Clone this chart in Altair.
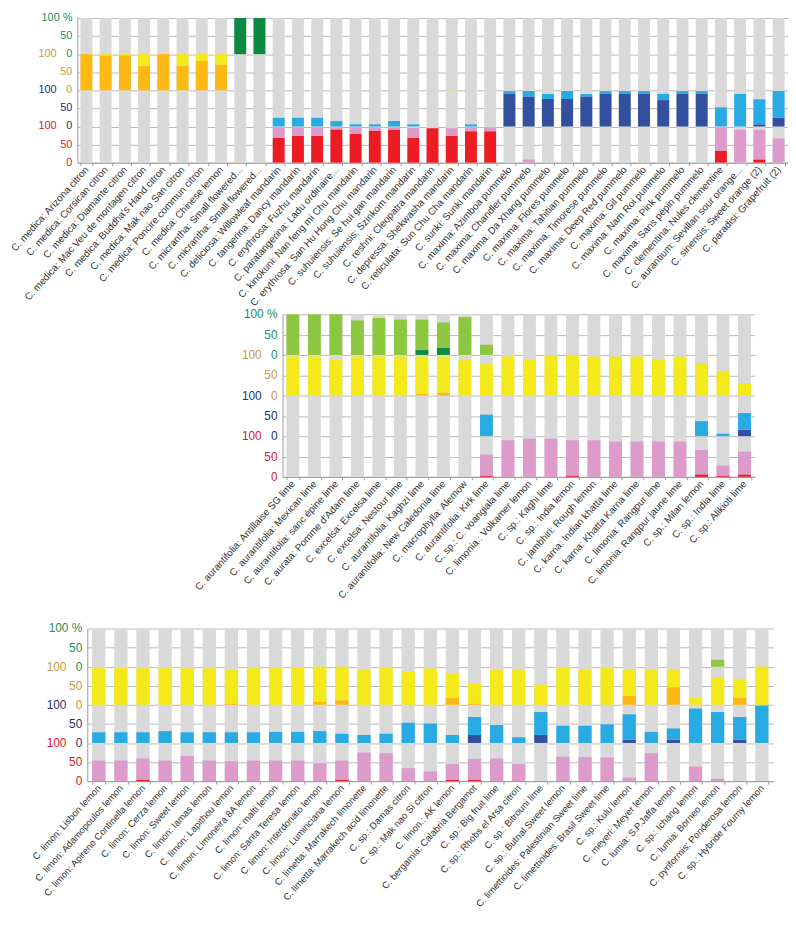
import json
import altair as alt
import pandas as pd

FONT = "Liberation Sans"
GRAY = "#d9d9d9"
CATS = ["R", "P", "DB", "LB", "O", "Y", "DG", "LG"]
PAIRS = [("R", "P"), ("DB", "LB"), ("O", "Y"), ("DG", "LG")]

# ---------------- panel 1 ----------------
p1_labels = [
    "C. medica: Arizona citron", "C. medica: Corsican citron", "C. medica: Diamante citron",
    "C. medica: Mac Veu de montagen citron", "C. medica: Buddha's Hand citron",
    "C. medica: Mak nao San citron", "C. medica: Poncire commun citron", "C. medica: Chinese lemon",
    "C. micrantha: Small flowered...", "C. micrantha: Small flowered...",
    "C. deliciosa: Willowleaf mandarin", "C. tangerina: Dancy mandarin", "C. erythrosa: Fuzhu mandarin",
    "C. paratangerina: Ladu ordinaire...", "C. kinokuni: Nan feng mi Chu mandarin",
    "C. erythrosa: San Hu Hong Chu mandarin", "C. suhuiensis: Se hui gan mandarin",
    "C. suhuiensis: Szinkom mandarin", "C. reshni: Cleopatra mandarin", "C. depressa: Shekwasha mandarin",
    "C. reticulata: Sun Chu Cha mandarin", "C. sunki: Sunki mandarin",
    "C. maxima: Azimboa pummelo", "C. maxima: Chandler pummelo", "C. maxima: Da Xhang pummelo",
    "C. maxima: Flores pummelo", "C. maxima: Tahitian pummelo", "C. maxima: Timorese pummelo",
    "C. maxima: Deep Red pummelo", "C. maxima: Gil pummelo", "C. maxima: Nam Roi pummelo",
    "C. maxima: Pink pummelo", "C. maxima: Sans pépin pummelo", "C. clementina: Nules clementine",
    "C. aurantium: Sevillan sour orange...", "C. sinensis: Sweet orange (2)", "C. paradisi: Grapefruit (2)",
]
p1_R = [0] * 10 + [69, 74, 74, 92, 79, 88, 92, 69, 95, 74, 87, 87] + [0] * 11 + [33, 0, 9, 0]
p1_P = [0] * 10 + [29, 24, 24, 6, 19, 10, 6, 27, 0, 21, 11, 11] + [0, 9, 0, 0, 0, 0, 0, 0, 0, 0, 0] + [65, 91, 82, 67]
p1_DB = [0] * 22 + [90, 83, 76, 76, 83, 91, 91, 91, 73, 91, 91] + [0, 0, 6, 24]
p1_LB = [0] * 10 + [24, 24, 24, 15, 6, 6, 15, 6, 0, 0, 6, 0] + [8, 15, 14, 22, 7, 7, 7, 7, 17, 7, 7] + [53, 90, 69, 74]
p1_O = [100, 96, 97, 67, 100, 67, 81, 71] + [0] * 29
p1_Y = [0, 4, 3, 33, 0, 33, 19, 29] + [0] * 11 + [4] + [0] * 17
p1_DG = [0] * 8 + [100, 100] + [0] * 27
p1_LG = [0] * 37

# ---------------- panel 2 ----------------
p2_labels = [
    "C. aurantifolia: Antillaise SG lime", "C. aurantifolia: Mexican lime",
    "C. aurantifolia: sanc épine lime", "C. aurata: Pomme d'Adam lime", "C. excelsa: Excelsa lime",
    "C. excelsa: Nestour lime", "C. aurantifolia: Kaghzi lime", "C. aurantifolia: New Caledonia lime",
    "C. macrophylla: Alemow", "C. aurantifolia: Kirk lime", "C. sp.: C. voangiala lime",
    "C. limonia.: Volkamer lemon", "C. sp.: Kaghi lime", "C. sp.: India lemon",
    "C. jambhiri: Rough lemon", "C. karna: Indian khatta lime", "C. karna: Khatta Karna lime",
    "C. limonia: Rangpur lime", "C. limonia: Rangpur jaune lime", "C. sp.: Milan lemon",
    "C. sp.: India lime", "C. sp.: Alikioti lime",
]
p2_R = [0] * 9 + [3, 0, 0, 0, 3, 0, 0, 0, 0, 0, 6, 3, 6]
p2_P = [0] * 9 + [52, 90, 94, 94, 87, 90, 87, 87, 87, 87, 60, 25, 56]
p2_DB = [0] * 21 + [16]
p2_LB = [0] * 9 + [53] + [0] * 9 + [37, 6, 41]
p2_O = [0] * 6 + [4, 7] + [0] * 14
p2_Y = [96, 96, 89, 96, 96, 96, 92, 89, 89, 77, 96, 89, 100, 100, 96, 96, 96, 89, 96, 80, 61, 30]
p2_DG = [0] * 6 + [12, 18] + [0] * 14
p2_LG = [100, 100, 100, 85, 91, 87, 75, 62, 93, 25] + [0] * 12

# ---------------- panel 3 ----------------
p3_labels = [
    "C. limon: Lisbon lemon", "C. limon: Adamopoulos lemon", "C. limon: Apireno Continella lemon",
    "C. limon: Cerza lemon", "C. limon: Sweet lemon", "C. limon: Iamas lemon", "C. limon: Lapithou lemon",
    "C. limon: Limoneira 8A lemon", "C. limon: malti lemon", "C. limon: Santa Teresa lemon",
    "C. limon: Interdonato lemon", "C. limon: Luminciana lemon", "C. limetta: Marrakech limonette",
    "C. limetta: Marrakech acid limonette", "C. sp.: Damas citron", "C. sp.: Mak nao Si citron",
    "C. limon.: AK lemon", "C. bergamia: Calabria Bergamot", "C. sp.: Big fruit lime",
    "C. sp.: Rhobs el Arsa citron", "C. sp.: Bitrouni lime", "C. sp.: Butnal Sweet lemon",
    "C. limettioides: Palestinian Sweet lime", "C. limettioides: Brasil Sweet lime",
    "C. sp.: Kulu lemon", "C. meyeri: Meyer lemon", "C. lumia: S.P.Jaffa lemon", "C. sp.: Ichang lemon",
    "C. lumia: Borneo lemon", "C. pyriformis: Ponderosa lemon", "C. sp.: Hybride Fourny lemon",
]
p3_R = [0, 0, 4, 0, 0, 0, 0, 0, 0, 0, 0, 4, 0, 0, 0, 0, 4, 4, 0, 0, 0, 0, 0, 0, 0, 0, 0, 0, 0, 0, 0]
p3_P = [54, 54, 55, 54, 66, 54, 52, 54, 54, 54, 47, 50, 75, 73, 34, 25, 41, 54, 59, 45, 0, 64, 63, 62, 9, 73, 0, 38, 6, 0, 0]
p3_DB = [0] * 17 + [21, 0, 0, 21, 0, 0, 0, 8, 0, 8, 0, 0, 8, 0]
p3_LB = [28, 28, 28, 31, 28, 28, 28, 28, 29, 29, 31, 24, 21, 24, 53, 51, 21, 47, 47, 15, 60, 45, 45, 49, 67, 29, 30, 90, 81, 60, 98]
p3_O = [0, 0, 0, 0, 0, 0, 3, 0, 0, 0, 8, 12, 0, 0, 0, 0, 19, 3, 0, 0, 0, 0, 0, 0, 23, 0, 46, 0, 0, 19, 0]
p3_Y = [96, 96, 96, 96, 96, 96, 88, 96, 98, 98, 92, 88, 91, 98, 86, 95, 62, 54, 91, 91, 53, 97, 91, 97, 68, 91, 45, 19, 73, 49, 100]
p3_DG = [0] * 31
p3_LG = [0] * 28 + [18, 0, 0]

# y tick labels (two columns, coloured per band)
tick_r_vals = [0, 50, 100, 150, 200, 250, 300, 350, 400]
tick_r_text = ["0", "50", "0", "50", "0", "50", "0", "50", "100 %"]
tick_r_col = ["#d4202e", "#d4202e", "#24306e", "#24306e", "#c69a3e", "#c69a3e", "#1e8c5c", "#1e8c5c", "#1e8c5c"]
tick_l_vals = [100, 200, 300]
tick_l_text = ["100", "100", "100"]
tick_l_col = ["#d4202e", "#24306e", "#c69a3e"]


def seg_table(keys, series):
    rows = []
    for i, k in enumerate(keys):
        for band, (a, b) in enumerate(PAIRS):
            base = band * 100
            va, vb = series[a][i], series[b][i]
            if va > 0:
                rows.append({"key": k, "cat": a, "y0": base, "y1": base + va})
            if vb > 0:
                rows.append({"key": k, "cat": b, "y0": base + va, "y1": base + va + vb})
    return pd.DataFrame(rows)


def panel(labels, series, step, pin, pout, offset, height, orange, lab_fs, x_fs):
    n = len(labels)
    keys = [f"{i:02d}" for i in range(n)]
    plot_w = step * (n - pin + 2 * pout)
    colors = ["#ec1c24", "#dc9bcb", "#33509f", "#28abe2", orange, "#f3e91b", "#0c8a44", "#8dc63f"]
    xs = alt.Scale(domain=keys, range=[offset, offset + plot_w], paddingInner=pin, paddingOuter=pout)
    ys = alt.Scale(domain=[0, 400], nice=False)
    xaxis = alt.Axis(title=None, labelExpr=json.dumps(labels) + "[toNumber(datum.value)]",
                     labelAngle=-48, labelFont=FONT, labelFontSize=x_fs, labelColor="#333333",
                     labelLimit=400, labelOverlap=False, labelPadding=2, tickBand="extent", tickSize=3,
                     tickColor="#9a9a9a", domainColor="#9a9a9a")
    yaxis = alt.Axis(title=None, values=tick_r_vals, labels=False, ticks=False, grid=True,
                     gridColor="#a8a8a8", gridWidth=0.8, domain=True, domainColor="#9a9a9a",
                     offset=-offset)
    X = alt.X("key:N", scale=xs, axis=xaxis)
    Y = alt.Y("y0:Q", scale=ys, axis=yaxis)
    bg_df = pd.DataFrame({"key": keys, "y0": [0] * n, "y1": [400] * n})
    bg = alt.Chart(bg_df).mark_bar(color=GRAY).encode(x=X, y=Y, y2="y1")
    seg = alt.Chart(seg_table(keys, series)).mark_bar().encode(
        x=X, y=Y, y2="y1",
        color=alt.Color("cat:N", scale=alt.Scale(domain=CATS, range=colors), legend=None))
    tr = pd.DataFrame({"y0": tick_r_vals, "txt": tick_r_text, "col": tick_r_col})
    tl = pd.DataFrame({"y0": tick_l_vals, "txt": tick_l_text, "col": tick_l_col})
    txt_r = alt.Chart(tr).mark_text(align="right", baseline="middle", font=FONT, fontSize=lab_fs).encode(
        x=alt.value(offset - 5), y=Y, text="txt:N", color=alt.Color("col:N", scale=None))
    txt_l = alt.Chart(tl).mark_text(align="right", baseline="middle", font=FONT, fontSize=lab_fs).encode(
        x=alt.value(offset - 21), y=Y, text="txt:N", color=alt.Color("col:N", scale=None))
    return alt.layer(bg, seg, txt_r, txt_l).properties(width=offset + plot_w, height=height)


s1 = {"R": p1_R, "P": p1_P, "DB": p1_DB, "LB": p1_LB, "O": p1_O, "Y": p1_Y, "DG": p1_DG, "LG": p1_LG}
s2 = {"R": p2_R, "P": p2_P, "DB": p2_DB, "LB": p2_LB, "O": p2_O, "Y": p2_Y, "DG": p2_DG, "LG": p2_LG}
s3 = {"R": p3_R, "P": p3_P, "DB": p3_DB, "LB": p3_LB, "O": p3_O, "Y": p3_Y, "DG": p3_DG, "LG": p3_LG}

c1 = panel(p1_labels, s1, 19.4, 0.38, 0.16, 0, 146, "#fdb913", 11, 10)
c2 = panel(p2_labels, s2, 21.7, 0.4, 0.18, 207, 164, "#f7941d", 12, 10)
c3 = panel(p3_labels, s3, 22.3, 0.4, 0.22, 10, 154, "#f7941d", 12, 9.6)

chart = alt.vconcat(c1, c2, c3, spacing=153, bounds="flush").properties(
    padding={"left": 0, "right": 0, "top": 0, "bottom": 0}, background="white"
).configure_view(stroke=None)

chart.save("out.html", embed_options={"renderer": "svg", "actions": False})
